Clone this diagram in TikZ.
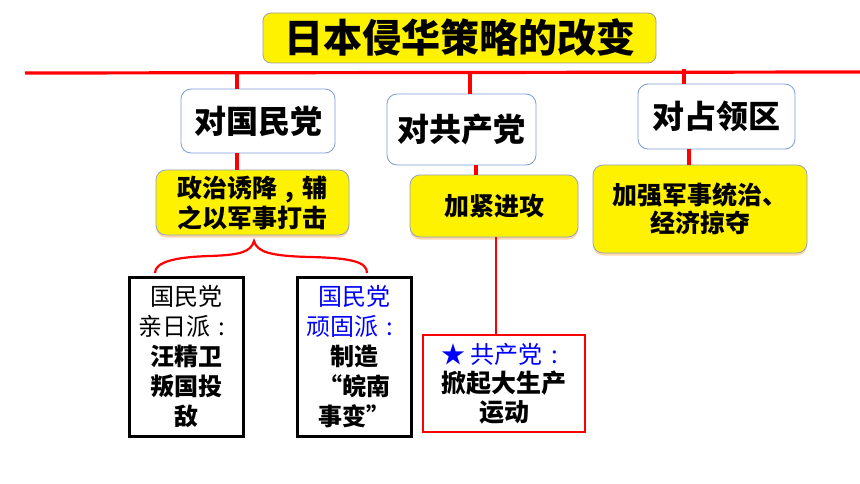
\documentclass[tikz,border=0pt]{standalone}
\usepackage{fontspec}
\newfontfamily\cjk{Noto Sans CJK SC}
\usetikzlibrary{shadows}
\definecolor{bxblue}{HTML}{7F9CD8}
\definecolor{ybord}{HTML}{8FA3C8}
\definecolor{tbord}{HTML}{A0A0A0}
\definecolor{redl}{HTML}{FF0000}
\definecolor{txtblue}{HTML}{0000FF}
\newcommand{\zcolon}{\makebox[1em][c]{:}}
\newcommand{\zcomma}{\makebox[1em][c]{,}}
\tikzset{
  redline/.style={draw=redl, line width=3.2pt},
  titlebox/.style={draw=tbord, fill=yellow, rounded corners=8pt, line width=0.8pt,
    minimum width=393pt, minimum height=50pt, inner sep=0pt,
    font=\cjk\bfseries\fontsize{39}{44}\selectfont},
  lvbox/.style={draw=bxblue, fill=white, rounded corners=10pt, line width=0.8pt,
    inner sep=0pt, font=\cjk\bfseries\fontsize{32}{36}\selectfont},
  ybox/.style={draw=ybord, fill=yellow, rounded corners=10pt, line width=0.8pt,
    inner sep=0pt, align=center,
    drop shadow={shadow xshift=0pt, shadow yshift=-2.5pt, fill=orange!70, opacity=0.45},
    font=\cjk\bfseries\fontsize{25}{30}\selectfont},
  kbox/.style={draw=black, fill=white, line width=3pt, inner sep=0pt, align=center,
    minimum width=114pt, minimum height=159pt,
    font=\cjk\fontsize{24}{30}\selectfont},
  rbox/.style={draw=redl, fill=white, line width=2pt, inner sep=0pt, align=center,
    minimum width=162pt, minimum height=97pt,
    font=\cjk\fontsize{24}{29}\selectfont},
}
\begin{document}
\begin{tikzpicture}[x=1pt,y=-1pt]
\useasboundingbox (0,0) rectangle (860,484);
\fill[white] (0,0) rectangle (860,484);

% title
\node[titlebox] (title) at (459.5,38) {日本侵华策略的改变};

% main red line
\coordinate (L) at (25,73);
\coordinate (R) at (860,72);
\draw[redline] (L) -- (R);

% level-2 boxes
\node[lvbox, minimum width=154pt, minimum height=64pt] (n1) at (258,121) {对国民党};
\node[lvbox, minimum width=149pt, minimum height=71pt] (n2) at (461.5,129.5) {对共产党};
\node[lvbox, minimum width=157pt, minimum height=65pt] (n3) at (716.5,116.5) {对占领区};

% ticks
\coordinate (t1) at (237,73);
\coordinate (t2) at (470,73);
\coordinate (t3) at (684,69);
\draw[redline] (t1) -- (t1 |- n1.north);
\draw[redline] (t2) -- (t2 |- n2.north);
\draw[redline] (t3) -- (t3 |- n3.north);

% yellow boxes
\node[ybox, minimum width=193pt, minimum height=65pt] (y1) at (252.5,202.5) {政治诱降\zcomma 辅\\之以军事打击};
\node[ybox, minimum width=168pt, minimum height=62pt] (y2) at (494,206) {加紧进攻};
\node[ybox, minimum width=214pt, minimum height=88pt, font=\cjk\bfseries\fontsize{25}{28}\selectfont] (y3) at (700,209) {加强军事统治、\\经济掠夺};

% connectors level2 -> yellow
\coordinate (c1) at (237,0);
\coordinate (c2) at (476,0);
\coordinate (c3) at (689,0);
\draw[redline] (c1 |- n1.south) -- (c1 |- y1.north);
\draw[redline] (c2 |- n2.south) -- (c2 |- y2.north);
\draw[redline] (c3 |- n3.south) -- (c3 |- y3.north);

% bottom boxes
\node[kbox] (b1) at (186,356.5) {国民党\\亲日派\zcolon\\{\bfseries 汪精卫}\\{\bfseries 叛国投}\\{\bfseries 敌}};
\node[kbox] (b2) at (354,356.5) {\textcolor{txtblue}{国民党}\\\textcolor{txtblue}{顽固派\zcolon}\\{\bfseries 制造}\\{\bfseries “皖南}\\{\bfseries 事变”}};
\node[rbox] (rb) at (504,383.5) {\textcolor{txtblue}{★ 共产党\zcolon}\\{\bfseries\fontsize{25}{29}\selectfont 掀起大生产}\\{\bfseries\fontsize{25}{29}\selectfont 运动}};

% yellow 2 -> red box
\coordinate (c4) at (496,0);
\draw[draw=redl, line width=2.2pt] (c4 |- y2.south) -- (c4 |- rb.north);

% brace
\coordinate (tip) at (254,241);
\coordinate (bl) at (155,273);
\coordinate (br) at (367,273);
\draw[draw=redl, line width=2.2pt]
  (bl) .. controls (155,262) and (175,257) .. (210,256)
       .. controls (240,255) and (251,252) .. (tip)
       .. controls (257,252) and (270,256) .. (310,257)
       .. controls (352,258) and (367,262) .. (br);
\end{tikzpicture}
\end{document}
